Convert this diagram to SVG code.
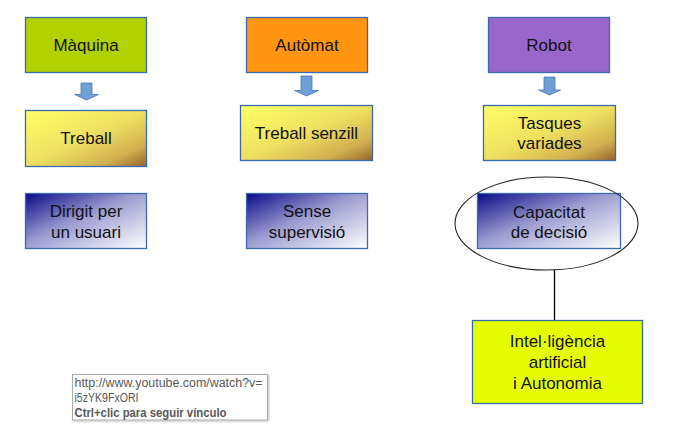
<svg xmlns="http://www.w3.org/2000/svg" width="680" height="429" viewBox="0 0 680 429">
<defs>
<linearGradient id="gy" x1="0" y1="0" x2="1" y2="1">
<stop offset="0" stop-color="#ffff66"/>
<stop offset="0.5" stop-color="#eee060"/>
<stop offset="0.8" stop-color="#d0b050"/>
<stop offset="1" stop-color="#98622a"/>
</linearGradient>
<linearGradient id="gb" x1="0" y1="0" x2="1" y2="1">
<stop offset="0" stop-color="#0a0a88"/>
<stop offset="0.45" stop-color="#9a9ad0"/>
<stop offset="1" stop-color="#ffffff"/>
</linearGradient>
<filter id="sh" x="-5%" y="-5%" width="110%" height="120%">
<feDropShadow dx="1" dy="1" stdDeviation="1" flood-color="#000" flood-opacity="0.25"/>
</filter>
</defs>
<style>
.box{stroke:#3a6ab0;stroke-width:1.3}
.t{font-family:"Liberation Sans",Arial,sans-serif;font-size:17px;fill:#111;text-anchor:middle}
.arr{fill:#6f9fd6;stroke:#4a78b0;stroke-width:0.8}
.tip{font-family:"Liberation Sans",Arial,sans-serif;font-size:12px;fill:#585858}
</style>
<rect width="680" height="429" fill="#fff"/>
<g id="connectors">
<path class="arr" d="M81,83 H92 V94.5 H98.5 L86.5,100 L74.5,94.5 H81 Z"/>
<path class="arr" d="M301,76 H312 V90.5 H318.5 L306.5,96 L294.5,90.5 H301 Z"/>
<path class="arr" d="M544,77 H555 V90 H560.5 L549.5,95 L538.5,90 H544 Z"/>
<line x1="554.5" y1="270" x2="554.5" y2="320.5" stroke="#000" stroke-width="1.3"/>
</g>
<g id="maquina"><rect class="box" x="25.5" y="17.5" width="121" height="55" fill="#b2d100"/><text class="t" x="86" y="51">Màquina</text></g>
<g id="automat"><rect class="box" x="246.5" y="17.5" width="121" height="55" fill="#ff9510"/><text class="t" x="307" y="51">Autòmat</text></g>
<g id="robot"><rect class="box" x="488.5" y="17.5" width="121" height="55" fill="#9966cc"/><text class="t" x="549" y="51">Robot</text></g>
<g id="treball"><rect class="box" x="25.5" y="110.5" width="121" height="56" fill="url(#gy)"/><text class="t" x="86" y="144">Treball</text></g>
<g id="treball-senzill"><rect class="box" x="240.5" y="105.5" width="132" height="55" fill="url(#gy)"/><text class="t" x="306.5" y="139">Treball senzill</text></g>
<g id="tasques"><rect class="box" x="483.5" y="105.5" width="132" height="55" fill="url(#gy)"/><text class="t" x="549.5" y="128.5">Tasques</text><text class="t" x="549.5" y="148.5">variades</text></g>
<g id="dirigit"><rect class="box" x="25.5" y="193.5" width="121" height="55" fill="url(#gb)"/><text class="t" x="86" y="217">Dirigit per</text><text class="t" x="86" y="237.5">un usuari</text></g>
<g id="sense"><rect class="box" x="246.5" y="193.5" width="121" height="55" fill="url(#gb)"/><text class="t" x="307" y="217">Sense</text><text class="t" x="307" y="237.5">supervisió</text></g>
<g id="capacitat"><rect class="box" x="477.5" y="193.5" width="143" height="55" fill="url(#gb)"/><text class="t" x="549" y="217.5">Capacitat</text><text class="t" x="549" y="237.5">de decisió</text><ellipse cx="546.5" cy="223.5" rx="91.5" ry="46.5" fill="none" stroke="#222" stroke-width="1.1"/></g>
<g id="intel"><rect class="box" x="472.5" y="320.5" width="170" height="83" fill="#e6ff00"/><text class="t" x="557.5" y="347">Intel·ligència</text><text class="t" x="557.5" y="368">artificial</text><text class="t" x="557.5" y="389">i Autonomia</text></g>
<g id="tooltip">
<rect x="72.5" y="374.5" width="195" height="45.5" fill="#fff" stroke="#aaa" stroke-width="1" filter="url(#sh)"/>
<text class="tip" x="74.5" y="387" textLength="188" lengthAdjust="spacingAndGlyphs">http://www.youtube.com/watch?v=</text>
<text class="tip" x="74.5" y="401.5" textLength="64" lengthAdjust="spacingAndGlyphs">i5zYK9FxORI</text>
<text class="tip" x="74.5" y="416.5" font-weight="bold" fill="#444" textLength="152" lengthAdjust="spacingAndGlyphs">Ctrl+clic para seguir vínculo</text>
</g>
</svg>
